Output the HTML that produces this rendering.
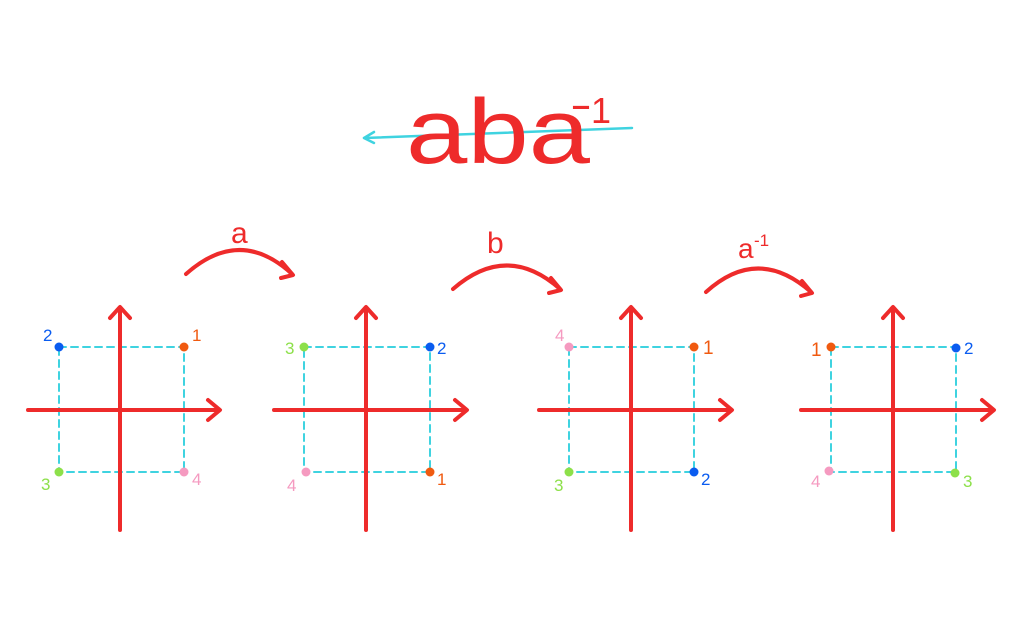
<!DOCTYPE html>
<html><head><meta charset="utf-8"><style>
html,body{margin:0;padding:0;background:#fff;width:1024px;height:640px;overflow:hidden}
svg{display:block}
text{font-family:"Liberation Sans",sans-serif}
</style></head><body>
<svg width="1024" height="640" viewBox="0 0 1024 640" xmlns="http://www.w3.org/2000/svg">
<g fill="none" stroke-linecap="round" stroke-linejoin="round">
<path d="M364 138 L632 128" stroke="#3fd3e0" stroke-width="2.5"/>
<path d="M374 132 L364 138 L374 143" stroke="#3fd3e0" stroke-width="2.5"/>
</g>
<text x="406" y="163" font-size="92" fill="#ee2b2b" textLength="184" lengthAdjust="spacingAndGlyphs">aba</text>
<text x="570" y="118" font-size="40" fill="#ee2b2b" textLength="22" lengthAdjust="spacingAndGlyphs">-</text>
<text x="591" y="123" font-size="36" fill="#ee2b2b">1</text>

<g fill="none" stroke="#ee2b2b" stroke-width="4" stroke-linecap="round" stroke-linejoin="round">
<path d="M186 274 Q240 226 292 274"/><path d="M282 262 L293 275 L281 278"/>
<path d="M453 289 Q507 242 560 289"/><path d="M551 278 L561 290 L549 293"/>
<path d="M706 292 Q758 245 811 292"/><path d="M802 281 L812 293 L801 296"/>
</g>
<text x="231" y="243" font-size="30" fill="#ee2b2b">a</text>
<text x="487" y="253" font-size="30" fill="#ee2b2b">b</text>
<text x="738" y="258" font-size="28" fill="#ee2b2b">a</text>
<text x="754" y="246" font-size="17" fill="#ee2b2b">-1</text>

<g stroke-linecap="round" stroke-linejoin="round" fill="none">
<path d="M59 347 H184 V472 H59 Z" stroke="#3fd3e0" stroke-width="2" stroke-dasharray="7 5"/>
<path d="M120 308 V530 M28 410 H219 M110 318 L120 307 L130 318 M208 400 L220 410 L208 420" stroke="#ee2b2b" stroke-width="4"/>
<path d="M304 347 H430 V472 H304 Z" stroke="#3fd3e0" stroke-width="2" stroke-dasharray="7 5"/>
<path d="M366 308 V530 M274 410 H466 M356 318 L366 307 L376 318 M455 400 L467 410 L455 420" stroke="#ee2b2b" stroke-width="4"/>
<path d="M569 347 H694 V472 H569 Z" stroke="#3fd3e0" stroke-width="2" stroke-dasharray="7 5"/>
<path d="M631 308 V530 M539 410 H731 M621 318 L631 307 L641 318 M720 400 L732 410 L720 420" stroke="#ee2b2b" stroke-width="4"/>
<path d="M831 347 H956 V472 H831 Z" stroke="#3fd3e0" stroke-width="2" stroke-dasharray="7 5"/>
<path d="M893 308 V530 M801 410 H993 M883 318 L893 307 L903 318 M982 400 L994 410 L982 420" stroke="#ee2b2b" stroke-width="4"/>
</g>
<g>
<circle cx="59" cy="347" r="4.5" fill="#0a5cf0"/><circle cx="184" cy="347" r="4.5" fill="#f05a10"/>
<circle cx="59" cy="472" r="4.5" fill="#8de04a"/><circle cx="184" cy="472" r="4.5" fill="#f59ac0"/>
<circle cx="304" cy="347" r="4.5" fill="#8de04a"/><circle cx="430" cy="347" r="4.5" fill="#0a5cf0"/>
<circle cx="306" cy="472" r="4.5" fill="#f59ac0"/><circle cx="430" cy="472" r="4.5" fill="#f05a10"/>
<circle cx="569" cy="347" r="4.5" fill="#f59ac0"/><circle cx="694" cy="347" r="4.5" fill="#f05a10"/>
<circle cx="569" cy="472" r="4.5" fill="#8de04a"/><circle cx="694" cy="472" r="4.5" fill="#0a5cf0"/>
<circle cx="831" cy="347" r="4.5" fill="#f05a10"/><circle cx="956" cy="348" r="4.5" fill="#0a5cf0"/>
<circle cx="829" cy="471" r="4.5" fill="#f59ac0"/><circle cx="955" cy="473" r="4.5" fill="#8de04a"/>
</g>
<g font-size="17">
<text x="43" y="341" fill="#0a5cf0">2</text><text x="192" y="341" fill="#f05a10">1</text>
<text x="41" y="490" fill="#8de04a">3</text><text x="192" y="485" fill="#f59ac0">4</text>
<text x="285" y="354" fill="#8de04a">3</text><text x="437" y="354" fill="#0a5cf0">2</text>
<text x="287" y="491" fill="#f59ac0">4</text><text x="437" y="485" fill="#f05a10">1</text>
<text x="555" y="341" fill="#f59ac0">4</text><text x="703" y="354" fill="#f05a10" font-size="19">1</text>
<text x="554" y="491" fill="#8de04a">3</text><text x="701" y="485" fill="#0a5cf0">2</text>
<text x="811" y="356" fill="#f05a10" font-size="19">1</text><text x="964" y="354" fill="#0a5cf0">2</text>
<text x="811" y="487" fill="#f59ac0">4</text><text x="963" y="487" fill="#8de04a">3</text>
</g>
</svg>
</body></html>
